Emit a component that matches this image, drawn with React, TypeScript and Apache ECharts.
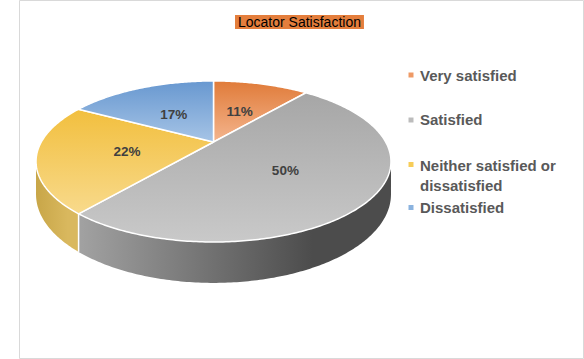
import React, { useEffect, useRef } from "react";
import * as echarts from "echarts";

const title = "Locator Satisfaction";
const categories = ["Very satisfied", "Satisfied", "Neither satisfied or dissatisfied", "Dissatisfied"];
const values = [11, 50, 22, 17];

// styling (not data)
const topColors = [
  ["#E07B39", "#F4B58E"],
  ["#A6A6A6", "#C9C9C9"],
  ["#F2BF3E", "#F8DA8C"],
  ["#6898D0", "#A6C4E6"],
];
const wallColors = [
  ["#C0622A", "#D78A58"],
  ["#A2A2A2", "#4C4C4C"],
  ["#C8A648", "#D9B85E"],
  ["#4F7FB5", "#7FA5D0"],
];
const legendColors = ["#EE9A66", "#BCBCBC", "#F7CD58", "#8BB3DF"];

// projection layout
const CX = 213.5;
const CY = 142;
const A = 172.2;
const B = 75.8;
const P = -0.242;
const H = 31;
const FONT = '"Liberation Sans", Arial, sans-serif';

function proj(thetaDeg: number, r: number, z: number): number[] {
  const t = (thetaDeg * Math.PI) / 180;
  const u = r * Math.sin(t);
  const v = -r * Math.cos(t);
  const d = 1 + P * v;
  return [CX + (A * u) / d, CY + (B * v + H * z) / d];
}

function arc(a0: number, a1: number, z: number): number[][] {
  const pts: number[][] = [];
  const n = Math.max(2, Math.ceil(Math.abs(a1 - a0) / 0.75));
  for (let k = 0; k <= n; k++) pts.push(proj(a0 + ((a1 - a0) * k) / n, 1, z));
  return pts;
}

export default function App() {
  const ref = useRef<HTMLDivElement>(null);
  useEffect(() => {
    if (!ref.current) return;
    const chart = echarts.init(ref.current, undefined, { renderer: "svg" });
    const total = values.reduce((a, b) => a + b, 0);
    const visLo = (Math.acos(P) * 180) / Math.PI;
    const visHi = 360 - visLo;

    const renderItem = (params: any, api: any) => {
      const i = params.dataIndex;
      let cum = 0;
      for (let k = 0; k < i; k++) cum += values[k];
      const val = api.value(0);
      const a0 = (cum / total) * 360;
      const a1 = ((cum + val) / total) * 360;
      const children: any[] = [];
      const lo = Math.max(a0, visLo);
      const hi = Math.min(a1, visHi);
      if (hi > lo) {
        const pts = arc(lo, hi, 0).concat(arc(hi, lo, 1));
        children.push({
          type: "polygon",
          z2: 1,
          shape: { points: pts },
          style: {
            fill: new echarts.graphic.LinearGradient(0, 0, 1, 0, [
              { offset: 0, color: wallColors[i][0] },
              { offset: 0.75, color: wallColors[i][1] },
              { offset: 1, color: wallColors[i][1] },
            ]),
            stroke: null,
          },
        });
      }
      if (a0 > visLo && a0 < visHi) {
        const p1 = proj(a0, 1, 0);
        const p2 = proj(a0, 1, 1);
        children.push({
          type: "line",
          z2: 2,
          shape: { x1: p1[0], y1: p1[1], x2: p2[0], y2: p2[1] },
          style: { stroke: "#ffffff", lineWidth: 1.5 },
        });
      }
      const topPts = [proj(0, 0, 0)].concat(arc(a0, a1, 0));
      children.push({
        type: "polygon",
        z2: 10,
        shape: { points: topPts },
        style: {
          fill: new echarts.graphic.LinearGradient(0, 0, 0, 1, [
            { offset: 0, color: topColors[i][0] },
            { offset: 1, color: topColors[i][1] },
          ]),
          stroke: "#ffffff",
          lineWidth: 1.5,
          lineJoin: "round",
        },
      });
      const mid = (a0 + a1) / 2;
      const lp = proj(mid, 0.5, 0);
      children.push({
        type: "text",
        z2: 20,
        x: lp[0],
        y: lp[1] + 2,
        style: {
          text: Math.round((val / total) * 100) + "%",
          align: "center",
          verticalAlign: "middle",
          fill: "#404040",
          fontSize: 13.5,
          fontWeight: "bold",
          fontFamily: FONT,
        },
      });
      return { type: "group", children };
    };

    const legendIconY = [75, 120, 164.5, 207.5];
    const legendTextTop = [65, 109.5, 155, 197.5];
    const legendGraphics: any[] = [];
    categories.forEach((c, i) => {
      legendGraphics.push({
        type: "rect",
        shape: { x: 408.5, y: legendIconY[i] - 2.5, width: 5, height: 5 },
        style: { fill: legendColors[i] },
      });
      legendGraphics.push({
        type: "text",
        x: 420,
        y: legendTextTop[i],
        style: {
          text: c,
          width: 155,
          overflow: "break",
          lineHeight: 20,
          verticalAlign: "top",
          align: "left",
          fill: "#595959",
          fontSize: 15,
          fontWeight: "bold",
          fontFamily: FONT,
        },
      });
    });

    chart.setOption({
      animation: false,
      backgroundColor: "#ffffff",
      title: {
        text: title,
        left: 235,
        top: 15,
        padding: [0, 3],
        backgroundColor: "#E47E3C",
        textStyle: {
          color: "#000000",
          fontSize: 14,
          fontWeight: "normal",
          fontFamily: FONT,
          lineHeight: 14,
        },
      },
      graphic: [
        {
          type: "rect",
          shape: { x: 19.5, y: 0.5, width: 564, height: 358 },
          style: { fill: "none", stroke: "#D9D9D9", lineWidth: 1 },
          silent: true,
        },
        ...legendGraphics,
      ],
      series: [
        {
          type: "custom",
          coordinateSystem: "none",
          renderItem,
          data: values.map((v, i) => ({ name: categories[i], value: [v] })),
        },
      ],
    });
    return () => chart.dispose();
  }, []);
  return (
    <div
      ref={ref}
      style={{ position: "absolute", left: 0, top: 0, width: 584, height: 359 }}
    />
  );
}
